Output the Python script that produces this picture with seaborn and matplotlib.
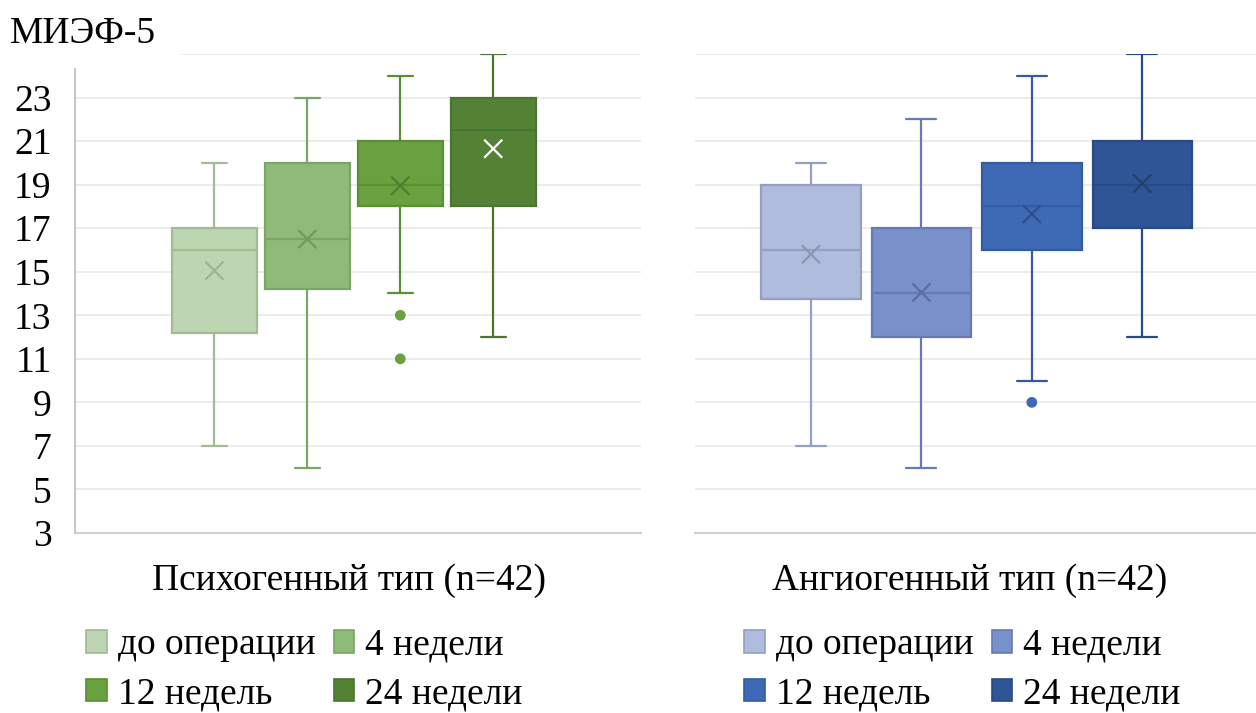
import numpy as np
import matplotlib
matplotlib.use("Agg")
import matplotlib.pyplot as plt
from matplotlib.patches import Patch, Rectangle
import seaborn as sns

# data
groups = ["до операции", "4 недели", "12 недель", "24 недели"]
panels = ["Психогенный тип (n=42)", "Ангиогенный тип (n=42)"]

left_lo = [7, 6, 14, 12]
left_q1 = [12.2, 14.2, 18, 18]
left_med = [16, 16.5, 19, 21.5]
left_q3 = [17, 20, 21, 23]
left_hi = [20, 23, 24, 25]
left_mean = [15.05, 16.5, 18.95, 20.65]
left_fliers = [[], [], [13, 11], []]

right_lo = [7, 6, 10, 12]
right_q1 = [13.75, 12, 16, 17]
right_med = [16, 14, 18, 19]
right_q3 = [19, 17, 20, 21]
right_hi = [20, 22, 24, 25]
right_mean = [15.8, 14.05, 17.65, 19.05]
right_fliers = [[], [], [9], []]

yticks = list(range(3, 26, 2))
# top label (25) is hidden under the title block in the source
ytick_labels = [str(t) for t in yticks[:-1]] + [""]

green_face = ["#bdd5b0", "#8fbb79", "#69a040", "#548235"]
green_edge = ["#a2bb94", "#79a664", "#5a8f35", "#4a7530"]
green_mean = ["#9db68f", "#6f9a5a", "#4e7f2e", "#ffffff"]
blue_face = ["#b0bcde", "#7891cb", "#3e69b5", "#2f5597"]
blue_edge = ["#94a0bf", "#667ab4", "#335ca3", "#284a85"]
blue_mean = ["#8c96b5", "#5c6ea0", "#2f4f8f", "#22406f"]

sns.set_theme(style="white")
plt.rcParams['font.family'] = ['Liberation Serif', 'DejaVu Serif']
plt.rcParams['text.color'] = 'black'
FS = 27

fig = plt.figure(figsize=(12.56, 7.13), dpi=100)
H = 713.0
W = 1256.0
ax_l = fig.add_axes([75 / W, (H - 533) / H, 566 / W, 479 / H])
ax_r = fig.add_axes([695 / W, (H - 533) / H, 561 / W, 479 / H])


def draw_panel(ax, lo, q1, med, q3, hi, mean, fliers, face, edge, mcol, xlim, width):
    stats = []
    for i in range(len(groups)):
        stats.append(dict(whislo=lo[i], q1=q1[i], med=med[i], q3=q3[i],
                          whishi=hi[i], fliers=fliers[i], mean=mean[i]))
    pos = np.arange(len(groups))
    ax.set_ylim(3, 25)
    ax.set_xlim(*xlim)
    for y in yticks[1:]:
        ax.axhline(y, color="#ebebeb", lw=1.3, zorder=0)
    res = ax.bxp(stats, positions=pos, widths=width, patch_artist=True,
                 showfliers=False, showmeans=False, capwidths=width * 0.3)
    for i in range(len(groups)):
        res['boxes'][i].set(facecolor=face[i], edgecolor=edge[i], linewidth=1.6, zorder=2)
        res['medians'][i].set(color=edge[i], linewidth=1.6, zorder=3)
        for ln in res['whiskers'][2 * i:2 * i + 2] + res['caps'][2 * i:2 * i + 2]:
            ln.set(color=edge[i], linewidth=1.6, zorder=1)
    # means as x markers
    sns.scatterplot(x=pos, y=mean, hue=groups, palette=mcol, marker="x", s=170,
                    linewidth=1.6, legend=False, ax=ax, zorder=4)
    fx = [pos[i] for i in range(len(groups)) for _ in fliers[i]]
    fy = [v for i in range(len(groups)) for v in fliers[i]]
    fc = [face[i] for i in range(len(groups)) for _ in fliers[i]]
    if fx:
        ax.scatter(fx, fy, s=60, c=fc, edgecolors="none", zorder=4)
    ax.set_xticks([])
    ax.set_yticks(yticks)
    ax.set_yticklabels(ytick_labels)
    sns.despine(ax=ax, top=True, right=True)
    ax.spines['bottom'].set_color("#d0d0d0")
    ax.spines['bottom'].set_linewidth(1.5)
    ax.spines['left'].set_color("#c8c8c8")
    ax.spines['left'].set_linewidth(1.5)
    ax.tick_params(axis='y', length=0, pad=17, labelsize=FS, labelcolor="black")


draw_panel(ax_l, left_lo, left_q1, left_med, left_q3, left_hi, left_mean, left_fliers,
           green_face, green_edge, green_mean, (-1.5, 4.59), 0.91)
draw_panel(ax_r, right_lo, right_q1, right_med, right_q3, right_hi, right_mean, right_fliers,
           blue_face, blue_edge, blue_mean, (-1.05, 4.03), 0.9)
ax_r.spines['left'].set_visible(False)
ax_r.set_yticklabels([])

ax_l.text((349 - 75) / 566, -48 / 479, panels[0], transform=ax_l.transAxes,
          ha='center', va='center', fontsize=FS)
ax_r.text((970 - 695) / 561, -48 / 479, panels[1], transform=ax_r.transAxes,
          ha='center', va='center', fontsize=FS)

# legend fills row by row in the source: reorder for matplotlib's column filling
order = [0, 2, 1, 3]
for x0, face, edge in [(86, green_face, green_edge), (744, blue_face, blue_edge)]:
    handles = [Patch(facecolor=face[i], edgecolor=edge[i], linewidth=1.2) for i in order]
    labels = [groups[i] for i in order]
    fig.legend(handles, labels, loc='upper left',
               bbox_to_anchor=(x0 / W, (H - 628) / H), ncol=2, frameon=False,
               fontsize=FS, handlelength=0.55, handleheight=0.55,
               handletextpad=0.3, columnspacing=0.48, labelspacing=0.38,
               borderpad=0, borderaxespad=0)

# the title block hides the top of the left axis like in the source picture
fig.add_artist(Rectangle((0, (H - 68) / H), 181 / W, 68 / H, transform=fig.transFigure,
                         facecolor="white", edgecolor="none", zorder=5))
fig.text(10 / W, (H - 43) / H, "МИЭФ-5", fontsize=FS, ha='left', va='baseline', zorder=6)

fig.savefig("out.png", dpi=100)
